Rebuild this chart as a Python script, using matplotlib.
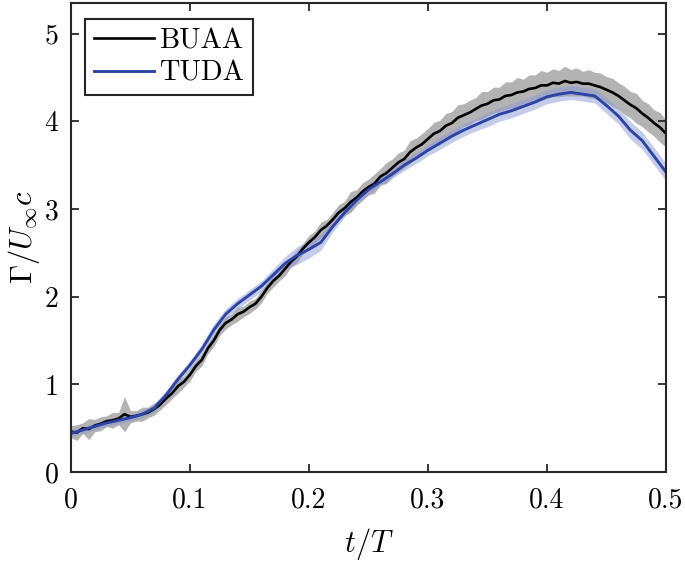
import numpy as np
import matplotlib
matplotlib.use("Agg")
import matplotlib.pyplot as plt

# ---------------- data ----------------
t_buaa = [i * 0.005 for i in range(101)]
buaa = [0.46, 0.45, 0.50, 0.49, 0.53, 0.55, 0.58, 0.59, 0.61, 0.66,
        0.63, 0.64, 0.66, 0.68, 0.72, 0.77, 0.84, 0.90, 0.98, 1.03,
        1.11, 1.21, 1.28, 1.41, 1.50, 1.62, 1.70, 1.74, 1.80, 1.83,
        1.88, 1.92, 2.00, 2.10, 2.18, 2.24, 2.32, 2.40, 2.46, 2.55,
        2.62, 2.68, 2.76, 2.81, 2.88, 2.96, 3.01, 3.08, 3.13, 3.20,
        3.25, 3.29, 3.37, 3.41, 3.47, 3.53, 3.57, 3.65, 3.70, 3.74,
        3.80, 3.86, 3.89, 3.95, 3.98, 4.04, 4.07, 4.10, 4.14, 4.18,
        4.20, 4.24, 4.25, 4.29, 4.30, 4.33, 4.34, 4.37, 4.38, 4.41,
        4.41, 4.44, 4.43, 4.46, 4.44, 4.45, 4.43, 4.43, 4.41, 4.39,
        4.36, 4.33, 4.29, 4.24, 4.19, 4.15, 4.09, 4.04, 3.98, 3.93,
        3.86]
buaa_err = [0.07, 0.09, 0.06, 0.12, 0.07, 0.08, 0.06, 0.09, 0.07, 0.20,
            0.07, 0.06, 0.08, 0.06, 0.07, 0.06, 0.07, 0.06, 0.08, 0.06,
            0.07, 0.06, 0.07, 0.06, 0.07, 0.06, 0.07, 0.06, 0.08, 0.06,
            0.07, 0.06, 0.07, 0.06, 0.07, 0.06, 0.08, 0.06, 0.07, 0.06,
            0.08, 0.07, 0.09, 0.07, 0.08, 0.09, 0.08, 0.12, 0.09, 0.10,
            0.09, 0.11, 0.09, 0.12, 0.10, 0.11, 0.10, 0.13, 0.11, 0.12,
            0.12, 0.13, 0.12, 0.14, 0.13, 0.15, 0.13, 0.14, 0.13, 0.16,
            0.14, 0.15, 0.14, 0.16, 0.15, 0.17, 0.14, 0.16, 0.15, 0.17,
            0.15, 0.16, 0.15, 0.17, 0.15, 0.16, 0.14, 0.16, 0.15, 0.16,
            0.15, 0.16, 0.15, 0.16, 0.15, 0.17, 0.15, 0.16, 0.15, 0.17,
            0.15]

t_tuda = [i * 0.01 for i in range(51)]
tuda = [0.44, 0.48, 0.52, 0.56, 0.59, 0.62, 0.66, 0.73, 0.88, 1.06,
        1.22, 1.40, 1.62, 1.80, 1.92, 2.02, 2.12, 2.25, 2.38, 2.47,
        2.54, 2.62, 2.80, 2.96, 3.10, 3.22, 3.31, 3.40, 3.50, 3.58,
        3.67, 3.75, 3.83, 3.90, 3.96, 4.02, 4.08, 4.12, 4.17, 4.22,
        4.28, 4.31, 4.33, 4.31, 4.29, 4.18, 4.06, 3.90, 3.78, 3.60,
        3.42]
tuda_err = [0.04, 0.04, 0.04, 0.04, 0.04, 0.04, 0.04, 0.05, 0.05, 0.05,
            0.05, 0.06, 0.07, 0.06, 0.06, 0.06, 0.06, 0.07, 0.08, 0.10,
            0.10, 0.09, 0.06, 0.05, 0.05, 0.05, 0.05, 0.05, 0.06, 0.06,
            0.06, 0.07, 0.07, 0.07, 0.07, 0.08, 0.08, 0.08, 0.08, 0.08,
            0.08, 0.08, 0.08, 0.08, 0.08, 0.09, 0.09, 0.10, 0.10, 0.10,
            0.10]

x_ticks = [0, 0.1, 0.2, 0.3, 0.4, 0.5]
x_ticklabels = ["0", "0.1", "0.2", "0.3", "0.4", "0.5"]
y_ticks = [0, 1, 2, 3, 4, 5]
y_ticklabels = ["0", "1", "2", "3", "4", "5"]

# ---------------- style ----------------
plt.rcParams['font.family'] = 'serif'
plt.rcParams['font.serif'] = ['cmr10', 'DejaVu Serif']
plt.rcParams['mathtext.fontset'] = 'cm'
plt.rcParams['axes.unicode_minus'] = False

fig = plt.figure(figsize=(6.85, 5.61), dpi=100)
ax = fig.add_axes([0.1036, 0.1586, 0.9723 - 0.1036, 0.9947 - 0.1586])

tb = np.array(t_buaa); yb = np.array(buaa); eb = np.array(buaa_err)
tt = np.array(t_tuda); yt = np.array(tuda); et = np.array(tuda_err)

ax.fill_between(tb, yb - eb, yb + eb, color='#b3b3b3', alpha=1.0, linewidth=0)
ax.fill_between(tt, yt - et, yt + et, color='#8d9bd6', alpha=0.5, linewidth=0)
ax.plot(tb, yb, color='black', lw=1.9, label='BUAA')
ax.plot(tt, yt, color='#2d44a6', lw=2.1, label='TUDA')

ax.set_xlim(0, 0.5)
ax.set_ylim(0, 5.35)
ax.set_xticks(x_ticks)
ax.set_xticklabels(x_ticklabels)
ax.set_yticks(y_ticks)
ax.set_yticklabels(y_ticklabels)
ax.tick_params(direction='in', top=True, right=True, length=6, width=1.3,
               labelsize=20, colors='#262626')
ax.tick_params(axis='x', pad=11)
ax.tick_params(axis='y', pad=9)
for lab in ax.get_xticklabels() + ax.get_yticklabels():
    lab.set_color('black')
for s in ax.spines.values():
    s.set_linewidth(1.5)
    s.set_color('#262626')

ax.set_xlabel(r'$t/T$', fontsize=22, labelpad=9)
ax.set_ylabel(r'$\Gamma/U_\infty c$', fontsize=22, labelpad=2)

leg = ax.legend(loc='upper left', fontsize=20.5, fancybox=False, framealpha=1,
                edgecolor='#262626', handlelength=2.1, borderpad=0.3,
                labelspacing=0.22, handletextpad=0.2, borderaxespad=0,
                bbox_to_anchor=(0.024, 0.965))
leg.get_frame().set_linewidth(1.5)

fig.savefig('out.png', dpi=100)
